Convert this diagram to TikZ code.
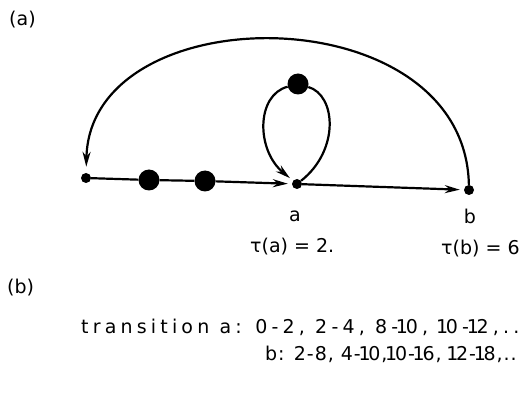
\documentclass[tikz,border=0pt]{standalone}
\usepackage{fontspec}
\setmainfont{DejaVu Sans}
\usetikzlibrary{arrows.meta}
\newcommand\narone{\makebox[0.4em][c]{1}}
\begin{document}
\begin{tikzpicture}[x=1pt,y=-1pt,
  small/.style={circle,fill=black,inner sep=0pt,minimum size=10pt},
  big/.style={circle,fill=black,inner sep=0pt,minimum size=21pt},
  edge/.style={line width=2.2pt},
  arr/.style={edge,-{Stealth[length=15pt,width=8pt]},shorten >=4pt},
  lab/.style={font=\fontsize{19}{23}\selectfont,inner sep=0pt}]
\useasboundingbox (0,0) rectangle (527,398);
\node[lab,anchor=base west] (la) at (9,26) {(a)};
\node[lab,anchor=base west] (lb) at (7,293) {(b)};
\node[small] (L) at (86,178) {};
\node[big] (B1) at (149,180) {};
\node[big] (B2) at (205,181) {};
\node[small] (a) at (297,184) {};
\node[small] (b) at (469,190) {};
\node[big] (T) at (298,84) {};
\draw[edge] (L) -- (B1) -- (B2);
\draw[arr] (B2) -- (a);
\draw[arr] (a) -- (b);
\draw[edge] (a) .. controls (340,150) and (336,95) .. (T);
\draw[arr] (T) .. controls (256,95) and (256,150) .. (a);
\draw[arr,shorten >=6pt] (b) .. controls (465,-6) and (90,-6) .. (L);
\node[lab,anchor=base] (na) at (295,222) {a};
\node[lab,anchor=base] (nb) at (470,223) {b};
\node[lab,anchor=base west] (ta) at (250,252) {τ(a) = 2.};
\node[lab,anchor=base west] (tb) at (441,254) {τ(b) = 6};
\node[lab,anchor=base west] (t1) at (81,333) {\addfontfeatures{LetterSpace=22}transition a: 0-2, 2-4, 8-\narone0, \narone0-\narone2,..};
\node[lab,anchor=base west] (t2) at (265,360) {\addfontfeatures{LetterSpace=5}b: 2-8, 4-\narone0,\narone0-\narone6, \narone2-\narone8,..};
\end{tikzpicture}
\end{document}
